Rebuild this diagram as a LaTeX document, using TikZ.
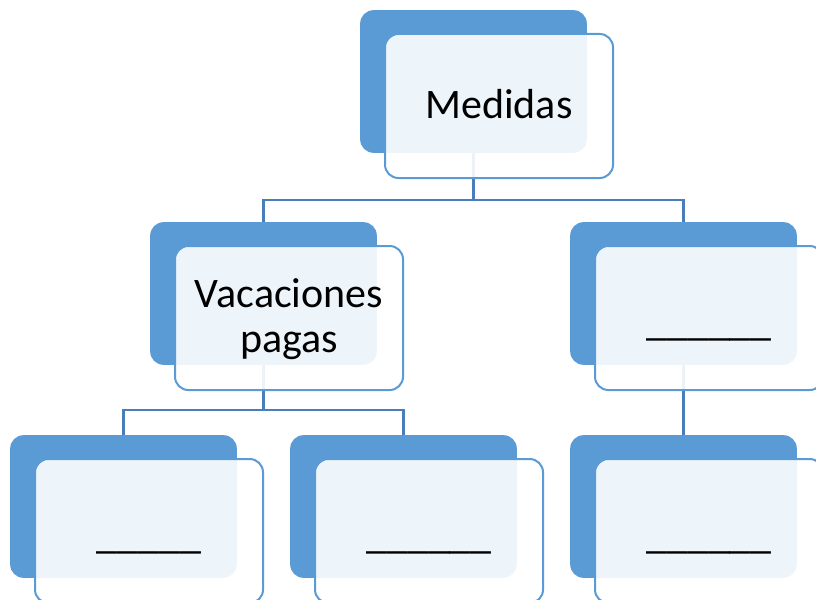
\documentclass[tikz,border=0pt]{standalone}
\usepackage{fontspec}
\setmainfont{Carlito}
\usepackage{tikz}
\usetikzlibrary{positioning}
\definecolor{boxblue}{HTML}{5B9BD5}
\definecolor{lineblue}{HTML}{4A7EBB}

\begin{document}
\begin{tikzpicture}[x=0.75pt, y=-0.75pt,
	back/.style = {shape=rectangle, rounded corners=10pt, fill=boxblue,
		minimum width=170pt, minimum height=107pt, inner sep=0pt},
	front/.style = {shape=rectangle, rounded corners=10pt, draw=boxblue,
		line width=1.5pt, fill=white, fill opacity=0.9, text opacity=1,
		minimum width=171pt, minimum height=108pt, align=center,
		font=\fontsize{31.5}{33.75}\selectfont,
		text height=21pt, text depth=2pt},
	blank/.style = {front, text height=28pt},
	conn/.style = {draw=lineblue, line width=1.75pt}]
	\useasboundingbox (0,0) rectangle (816,599);
	% back boxes
	\node[back] (med) at (473.5,81.5) {};
	\node[back] (vac) at (263.5,293.5) {};
	\node[back] (otro) at (683.5,293.5) {};
	\node[back] (hojaA) at (123.5,506.5) {};
	\node[back] (hojaB) at (403.5,506.5) {};
	\node[back] (hojaC) at (683.5,506.5) {};
	% connectors
	\coordinate (j1) at (473.5,200);
	\coordinate (j2) at (263.5,410);
	\draw[conn] (med.south) -- (j1) -| (vac.north);
	\draw[conn] (j1) -| (otro.north);
	\draw[conn] (vac.south) -- (j2) -| (hojaA.north);
	\draw[conn] (j2) -| (hojaB.north);
	\draw[conn] (otro.south) -- (hojaC.north);
	% front boxes
	\node[front] (medF) at ([shift={(25.5,24.5)}]med.center) {Medidas};
	\node[front, text height=54pt] (vacF) at ([shift={(25.5,24.5)}]vac.center) {Vacaciones\\pagas};
	\node[blank] (otroF) at ([shift={(25.5,24.5)}]otro.center) {\_\_\_\_\_\_};
	\node[blank] (hojaAF) at ([shift={(25.5,24.5)}]hojaA.center) {\_\_\_\_\_};
	\node[blank] (hojaBF) at ([shift={(25.5,24.5)}]hojaB.center) {\_\_\_\_\_\_};
	\node[blank] (hojaCF) at ([shift={(25.5,24.5)}]hojaC.center) {\_\_\_\_\_\_};
\end{tikzpicture}
\end{document}
